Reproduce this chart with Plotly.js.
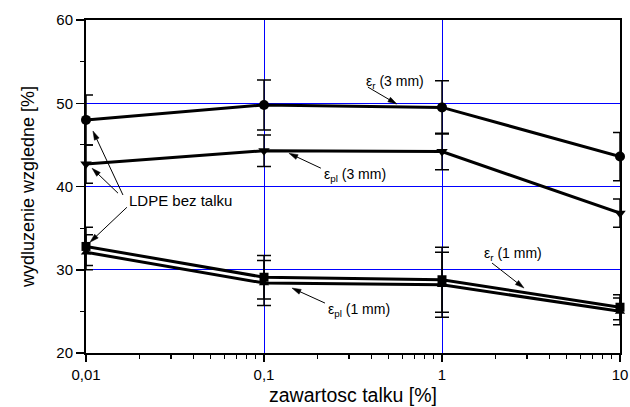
<!DOCTYPE html>
<html>
<head>
<meta charset="utf-8">
<script src="https://cdn.plot.ly/plotly-3.0.1.min.js"></script>
<style>html,body{margin:0;padding:0;background:#fff;}#chart{width:630px;height:407px;}</style>
</head>
<body>
<div id="chart"></div>
<script>
// talc content [%]
const talc = [0.01, 0.1, 1, 10];
const tickText = ['0,01', '0,1', '1', '10'];
// elongation values [%]
const er3 = [48.0, 49.8, 49.5, 43.6];
const er3Err = [3.0, 3.0, 3.2, 2.9];
const epl3 = [42.7, 44.3, 44.2, 36.8];
const epl3Err = [2.3, 1.9, 2.2, 1.7];
const er1 = [32.8, 29.1, 28.8, 25.5];
const er1Err = [2.3, 2.6, 3.9, 1.5];
const epl1 = [32.1, 28.4, 28.2, 25.0];
const epl1Err = [2.1, 2.7, 3.9, 1.6];
const yTicks = [20, 30, 40, 50, 60];
const yMinor = [25, 35, 45, 55];

const FONT = '"Liberation Sans", Arial, sans-serif';

// plot-area geometry (pixels)
const M = {l: 86, r: 10, t: 20, b: 54};
const W = 630 - M.l - M.r, H = 407 - M.t - M.b;
const XR = [-2, 1], YR = [20, 60];

function series(y, err, symbol, size) {
  return {
    x: talc, y: y, type: 'scatter', mode: 'lines+markers',
    line: {color: '#000', width: 3},
    marker: {color: '#000', symbol: symbol, size: size},
    error_y: {type: 'data', array: err, visible: true, color: '#000', thickness: 1.5, width: 7},
    cliponaxis: false, hoverinfo: 'none'
  };
}

const traces = [
  series(er3, er3Err, 'circle', 10),
  series(epl3, epl3Err, 'triangle-down', 10),
  series(er1, er1Err, 'square', 9),
  series(epl1, epl1Err, 'triangle-up', 9)
];

const minorX = [];
[0.01, 0.1, 1].forEach(d => { for (let k = 2; k <= 9; k++) minorX.push(+(d * k).toPrecision(3)); });

// arrows: head in data coordinates, tail as pixel offset from head
const arrowSpec = [
  [0.558, 49.9, -29, -17],
  [0.138, 44.0, 32, 15],
  [0.01094, 46.67, 30, 64],
  [0.01081, 42.2, 26, 25],
  [0.01052, 33.3, 37, -35],
  [2.89, 27.8, -32, -25],
  [0.1436, 27.8, 33, 15]
];
function dataToPx(xv, yv) {
  const px = M.l + W * (Math.log10(xv) - XR[0]) / (XR[1] - XR[0]);
  const py = M.t + H * (YR[1] - yv) / (YR[1] - YR[0]);
  return [px, py];
}
function pxToPaper(px, py) { return [(px - M.l) / W, (M.t + H - py) / H]; }
const shapes = [];
arrowSpec.forEach(([xv, yv, dx, dy]) => {
  const [hx, hy] = dataToPx(xv, yv);
  const tx = hx + dx, ty = hy + dy;
  const len = Math.hypot(dx, dy), ux = -dx / len, uy = -dy / len; // direction tail->head
  const L = 9, w = 2.6;
  const bx = hx - ux * L, by = hy - uy * L;
  const p1 = pxToPaper(tx, ty), p2 = pxToPaper(bx + ux * 1, by + uy * 1);
  shapes.push({type: 'line', xref: 'paper', yref: 'paper', x0: p1[0], y0: p1[1], x1: p2[0], y1: p2[1],
               line: {color: '#000', width: 1}, layer: 'above'});
  const a = pxToPaper(hx, hy), b = pxToPaper(bx - uy * w, by + ux * w), c = pxToPaper(bx + uy * w, by - ux * w);
  shapes.push({type: 'path', xref: 'paper', yref: 'paper',
               path: `M${a[0]},${a[1]} L${b[0]},${b[1]} L${c[0]},${c[1]} Z`,
               fillcolor: '#000', line: {color: '#000', width: 0.5}, layer: 'above'});
});

function label(px, py, txt, size) {
  const p = pxToPaper(px, py);
  return {x: p[0], y: p[1], xref: 'paper', yref: 'paper', xanchor: 'left', yanchor: 'middle',
          text: txt, showarrow: false, font: {family: FONT, size: size, color: '#000'}};
}
const annotations = [
  label(364, 82, 'ε<sub>r</sub> (3 mm)', 14),
  label(322, 175, 'ε<sub>pl</sub> (3 mm)', 14),
  label(127, 200, 'LDPE bez talku', 15),
  label(482, 254, 'ε<sub>r</sub> (1 mm)', 14),
  label(326, 310, 'ε<sub>pl</sub> (1 mm)', 14)
];

const layout = {
  width: 630, height: 407,
  margin: M,
  paper_bgcolor: '#fff', plot_bgcolor: '#fff',
  showlegend: false,
  font: {family: FONT, size: 15, color: '#000'},
  xaxis: {
    type: 'log', range: XR,
    tickmode: 'array', tickvals: talc, ticktext: tickText,
    ticks: 'outside', ticklen: 7, tickwidth: 1.5, tickcolor: '#000',
    minor: {tickmode: 'array', tickvals: minorX, ticks: 'outside', ticklen: 4, tickwidth: 1.2, tickcolor: '#000', showgrid: false},
    showline: true, linecolor: '#000', linewidth: 2, mirror: true,
    showgrid: true, gridcolor: '#0000ff', gridwidth: 1,
    zeroline: false,
    title: {text: 'zawartosc talku [%]', font: {family: FONT, size: 19.5}, standoff: 6},
    automargin: false
  },
  yaxis: {
    range: YR,
    tickmode: 'array', tickvals: yTicks,
    ticks: 'outside', ticklen: 8, tickwidth: 1.5, tickcolor: '#000',
    minor: {tickmode: 'array', tickvals: yMinor, ticks: 'outside', ticklen: 4, tickwidth: 1.2, tickcolor: '#000', showgrid: false},
    showline: true, linecolor: '#000', linewidth: 2, mirror: true,
    showgrid: true, gridcolor: '#0000ff', gridwidth: 1,
    zeroline: false,
    title: {text: 'wydluzenie wzgledne [%]', font: {family: FONT, size: 18}, standoff: 17},
    automargin: false
  },
  annotations: annotations,
  shapes: shapes
};

Plotly.newPlot('chart', traces, layout, {staticPlot: true, displayModeBar: false});
</script>
</body>
</html>
